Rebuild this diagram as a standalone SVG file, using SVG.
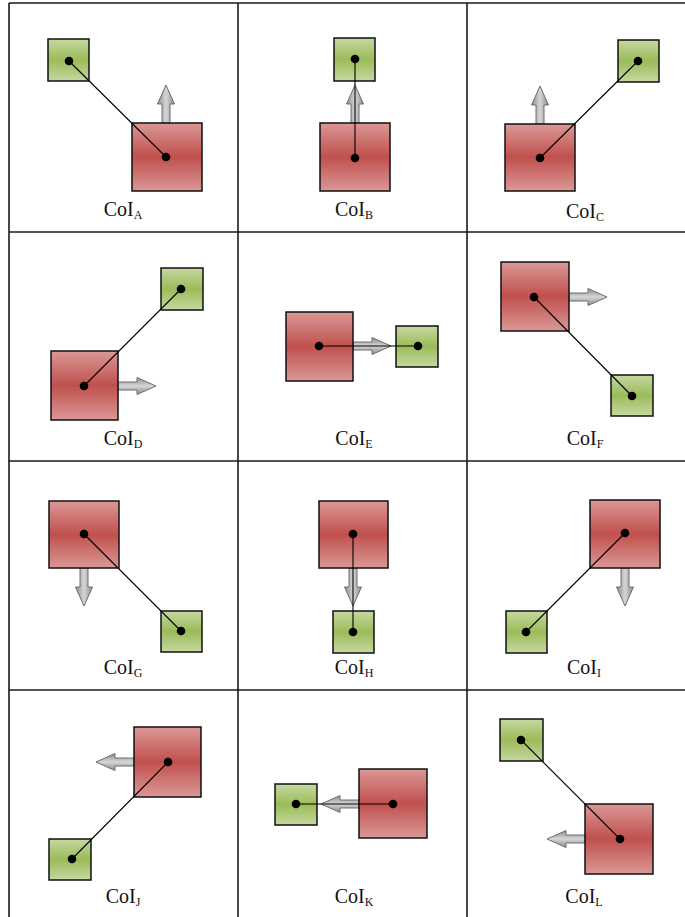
<svg xmlns="http://www.w3.org/2000/svg" width="685" height="917" viewBox="0 0 685 917">
  <style>
    .grid { stroke: #1a1a1a; stroke-width: 1.6; fill: none; }
    .red { fill: url(#redGrad); stroke: #111; stroke-width: 1.5; }
    .green { fill: url(#greenGrad); stroke: #111; stroke-width: 1.5; }
    .dot { fill: #000; }
    .link { stroke: #000; stroke-width: 1.1; fill: none; }
    .label { font-family: "Liberation Serif", "Times New Roman", serif; font-size: 20px; fill: #111; text-anchor: middle; }
    .sub { font-size: 12px; }
  </style>
  <defs>
    <linearGradient id="redGrad" x1="0" y1="0" x2="0" y2="1">
      <stop offset="0" stop-color="#da9896"/>
      <stop offset="0.5" stop-color="#c0504d"/>
      <stop offset="1" stop-color="#da9896"/>
    </linearGradient>
    <linearGradient id="greenGrad" x1="0" y1="0" x2="0" y2="1">
      <stop offset="0" stop-color="#c5d8a0"/>
      <stop offset="0.5" stop-color="#9bbb59"/>
      <stop offset="1" stop-color="#c5d8a0"/>
    </linearGradient>
    <linearGradient id="arrowGrad" x1="0" y1="0" x2="0" y2="1">
      <stop offset="0" stop-color="#8a8a8a"/>
      <stop offset="0.5" stop-color="#d6d6d6"/>
      <stop offset="1" stop-color="#8a8a8a"/>
    </linearGradient>
    <!-- block arrow pointing right, base at origin -->
    <path id="moveArrow" d="M0,-4 H19 V-8.5 L38,0 L19,8.5 V4 H0 Z" fill="url(#arrowGrad)" stroke="#6e6e6e" stroke-width="1"/>
  </defs>

  <rect x="0" y="0" width="685" height="917" fill="#fff"/>

  <!-- table grid -->
  <g id="grid" class="grid">
    <line x1="9" y1="3" x2="685" y2="3"/>
    <line x1="9" y1="232" x2="685" y2="232"/>
    <line x1="9" y1="461" x2="685" y2="461"/>
    <line x1="9" y1="690" x2="685" y2="690"/>
    <line x1="9" y1="3" x2="9" y2="917"/>
    <line x1="238" y1="3" x2="238" y2="917"/>
    <line x1="467" y1="3" x2="467" y2="917"/>
  </g>

  <!-- row 1 -->
  <g id="redA"><use href="#moveArrow" transform="translate(166,123) rotate(-90)"/><rect class="red" x="132" y="123" width="70" height="68"/></g>
  <g id="greenA"><rect class="green" x="48" y="39" width="41" height="42"/></g>
  <g id="redB"><use href="#moveArrow" transform="translate(355,123) rotate(-90)"/><rect class="red" x="320" y="123" width="70" height="68"/></g>
  <g id="greenB"><rect class="green" x="334" y="38" width="41" height="43"/></g>
  <g id="redC"><use href="#moveArrow" transform="translate(540,124) rotate(-90)"/><rect class="red" x="505" y="124" width="70" height="67"/></g>
  <g id="greenC"><rect class="green" x="618" y="40" width="41" height="42"/></g>

  <!-- row 2 -->
  <g id="redD"><use href="#moveArrow" transform="translate(118,386)"/><rect class="red" x="51" y="351" width="67" height="69"/></g>
  <g id="greenD"><rect class="green" x="161" y="268" width="42" height="42"/></g>
  <g id="redE"><use href="#moveArrow" transform="translate(353,346)"/><rect class="red" x="286" y="312" width="67" height="69"/></g>
  <g id="greenE"><rect class="green" x="396" y="326" width="42" height="41"/></g>
  <g id="redF"><use href="#moveArrow" transform="translate(569,297)"/><rect class="red" x="501" y="262" width="68" height="69"/></g>
  <g id="greenF"><rect class="green" x="611" y="375" width="42" height="41"/></g>

  <!-- row 3 -->
  <g id="redG"><use href="#moveArrow" transform="translate(84,568) rotate(90)"/><rect class="red" x="49" y="501" width="70" height="67"/></g>
  <g id="greenG"><rect class="green" x="161" y="611" width="41" height="41"/></g>
  <g id="redH"><use href="#moveArrow" transform="translate(353,568) rotate(90)"/><rect class="red" x="319" y="501" width="69" height="67"/></g>
  <g id="greenH"><rect class="green" x="333" y="611" width="41" height="42"/></g>
  <g id="redI"><use href="#moveArrow" transform="translate(625,568) rotate(90)"/><rect class="red" x="590" y="500" width="70" height="68"/></g>
  <g id="greenI"><rect class="green" x="506" y="611" width="41" height="42"/></g>

  <!-- row 4 -->
  <g id="redJ"><use href="#moveArrow" transform="translate(134,762) rotate(180)"/><rect class="red" x="134" y="727" width="67" height="70"/></g>
  <g id="greenJ"><rect class="green" x="49" y="839" width="42" height="41"/></g>
  <g id="redK"><use href="#moveArrow" transform="translate(359,804) rotate(180)"/><rect class="red" x="359" y="769" width="68" height="69"/></g>
  <g id="greenK"><rect class="green" x="275" y="784" width="42" height="41"/></g>
  <g id="redL"><use href="#moveArrow" transform="translate(585,839) rotate(180)"/><rect class="red" x="585" y="804" width="68" height="70"/></g>
  <g id="greenL"><rect class="green" x="500" y="719" width="43" height="42"/></g>

  <!-- centre-to-centre links with end dots -->
  <g id="connectors">
    <g class="link">
      <line x1="69" y1="61" x2="166" y2="157"/>
      <line x1="355" y1="59" x2="355" y2="158"/>
      <line x1="638" y1="61" x2="540" y2="158"/>
      <line x1="181" y1="289" x2="84" y2="386"/>
      <line x1="319" y1="346" x2="418" y2="346"/>
      <line x1="534" y1="297" x2="632" y2="396"/>
      <line x1="84" y1="534" x2="181" y2="631"/>
      <line x1="353" y1="534" x2="353" y2="632"/>
      <line x1="625" y1="533" x2="526" y2="632"/>
      <line x1="168" y1="762" x2="72" y2="859"/>
      <line x1="393" y1="804" x2="296" y2="804"/>
      <line x1="521" y1="740" x2="620" y2="839"/>
    </g>
    <g class="dot">
      <circle cx="69" cy="61" r="4.3"/><circle cx="166" cy="157" r="4.3"/>
      <circle cx="355" cy="59" r="4.3"/><circle cx="355" cy="158" r="4.3"/>
      <circle cx="638" cy="61" r="4.3"/><circle cx="540" cy="158" r="4.3"/>
      <circle cx="181" cy="289" r="4.3"/><circle cx="84" cy="386" r="4.3"/>
      <circle cx="319" cy="346" r="4.3"/><circle cx="418" cy="346" r="4.3"/>
      <circle cx="534" cy="297" r="4.3"/><circle cx="632" cy="396" r="4.3"/>
      <circle cx="84" cy="534" r="4.3"/><circle cx="181" cy="631" r="4.3"/>
      <circle cx="353" cy="534" r="4.3"/><circle cx="353" cy="632" r="4.3"/>
      <circle cx="625" cy="533" r="4.3"/><circle cx="526" cy="632" r="4.3"/>
      <circle cx="168" cy="762" r="4.3"/><circle cx="72" cy="859" r="4.3"/>
      <circle cx="393" cy="804" r="4.3"/><circle cx="296" cy="804" r="4.3"/>
      <circle cx="521" cy="740" r="4.3"/><circle cx="620" cy="839" r="4.3"/>
    </g>
  </g>

  <!-- cell captions -->
  <g id="labels" class="label">
    <text x="123" y="216">CoI<tspan class="sub" dy="3">A</tspan></text>
    <text x="354" y="216">CoI<tspan class="sub" dy="3">B</tspan></text>
    <text x="585" y="218">CoI<tspan class="sub" dy="3">C</tspan></text>
    <text x="123" y="445">CoI<tspan class="sub" dy="3">D</tspan></text>
    <text x="354" y="445">CoI<tspan class="sub" dy="3">E</tspan></text>
    <text x="585" y="445">CoI<tspan class="sub" dy="3">F</tspan></text>
    <text x="123" y="674">CoI<tspan class="sub" dy="3">G</tspan></text>
    <text x="354" y="674">CoI<tspan class="sub" dy="3">H</tspan></text>
    <text x="584" y="674">CoI<tspan class="sub" dy="3">I</tspan></text>
    <text x="123" y="903">CoI<tspan class="sub" dy="3">J</tspan></text>
    <text x="354" y="903">CoI<tspan class="sub" dy="3">K</tspan></text>
    <text x="584" y="903">CoI<tspan class="sub" dy="3">L</tspan></text>
  </g>
</svg>
